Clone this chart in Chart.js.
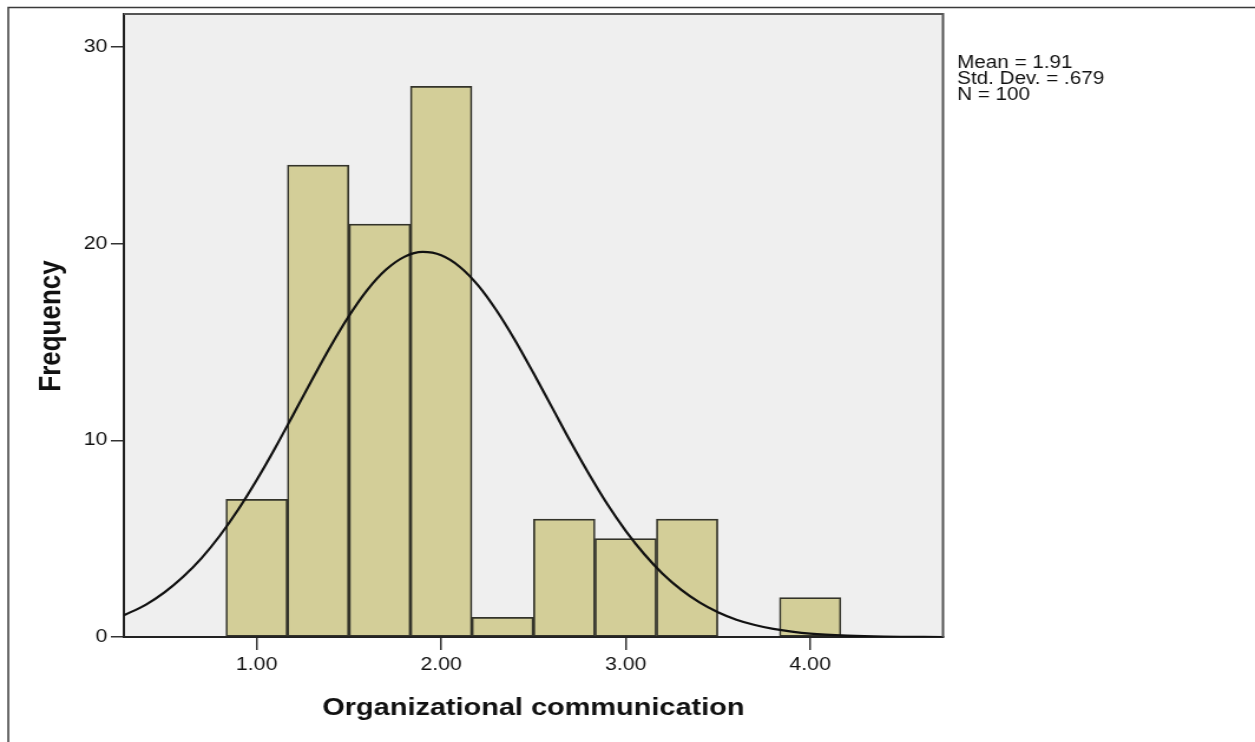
<!DOCTYPE html>
<html>
<head>
<meta charset="utf-8">
<title>Organizational communication</title>
<script src="https://cdn.jsdelivr.net/npm/chart.js@4.4.1/dist/chart.umd.min.js"></script>
<style>
  html, body { margin: 0; padding: 0; background: #fff; overflow: hidden; }
  #wrap { width: 1064px; height: 742px; transform: scaleX(1.1795); transform-origin: 0 0; }
</style>
</head>
<body>
<div id="wrap"><canvas id="histogram" width="1064" height="742"></canvas></div>
<script>
// histogram bins (centre of each 1/3-wide bin) and counts
const binCenters = [1.000, 1.333, 1.667, 2.000, 2.333, 2.667, 3.000, 3.333, 3.667, 4.000];
const frequencies = [7, 24, 21, 28, 1, 6, 5, 6, 0, 2];

// fitted normal curve, read at regular steps
const curveX = [0.28, 0.4, 0.5, 0.6, 0.7, 0.8, 0.9, 1.0, 1.1, 1.2, 1.3, 1.4, 1.5, 1.6, 1.7, 1.8, 1.9,
  2.0, 2.1, 2.2, 2.3, 2.4, 2.5, 2.6, 2.7, 2.8, 2.9, 3.0, 3.1, 3.2, 3.3, 3.4, 3.5, 3.6, 3.7, 3.8, 3.9,
  4.0, 4.2, 4.4, 4.72];
const curveY = [1.10, 1.65, 2.27, 3.05, 4.00, 5.15, 6.48, 7.98, 9.61, 11.34, 13.08, 14.77, 16.32, 17.65, 18.67, 19.33, 19.58,
  19.41, 18.83, 17.88, 16.60, 15.09, 13.42, 11.69, 9.95, 8.30, 6.76, 5.40, 4.22, 3.22, 2.41, 1.76, 1.26, 0.88, 0.61, 0.41, 0.27,
  0.17, 0.07, 0.02, 0.00];

const xTickValues = [1, 2, 3, 4];
const yTickValues = [0, 10, 20, 30];
const statsLines = ["Mean = 1.91", "Std. Dev. = .679", "N = 100"];
const xTitle = "Organizational communication";
const yTitle = "Frequency";

const FONT = "'Liberation Sans', Arial, sans-serif";

const decor = {
  id: "decor",
  beforeDraw(chart) {
    const { ctx, chartArea: a } = chart;
    ctx.save();
    ctx.fillStyle = "#fff";
    ctx.fillRect(0, 0, chart.width, chart.height);
    ctx.fillStyle = "#efefef";
    ctx.fillRect(a.left, a.top, a.right - a.left, a.bottom - a.top);
    // outer frame, top and left only
    ctx.strokeStyle = "#3a3a3a";
    ctx.lineWidth = 1.5;
    ctx.beginPath();
    ctx.moveTo(7, chart.height);
    ctx.lineTo(7, 7.5);
    ctx.lineTo(chart.width, 7.5);
    ctx.stroke();
    ctx.restore();
  },
  afterDatasetsDraw(chart) {
    const { ctx, chartArea: a } = chart;
    ctx.save();
    ctx.strokeStyle = "#555";
    ctx.lineWidth = 2;
    ctx.beginPath();
    ctx.moveTo(a.left, a.top);
    ctx.lineTo(a.right, a.top);
    ctx.lineTo(a.right, a.bottom);
    ctx.stroke();
    ctx.restore();
  },
  afterDraw(chart) {
    const { ctx, chartArea: a } = chart;
    ctx.save();
    ctx.fillStyle = "#111";
    ctx.font = "17.5px " + FONT;
    ctx.textAlign = "left";
    ctx.textBaseline = "middle";
    statsLines.forEach((t, i) => ctx.fillText(t, a.right + 12, 63 + i * 16));

    ctx.font = "bold 24.5px " + FONT;
    ctx.textAlign = "center";
    ctx.fillText(xTitle, (a.left + a.right) / 2, 708);

    ctx.translate(44, 326);
    ctx.rotate(-Math.PI / 2);
    ctx.font = "bold 26px " + FONT;
    ctx.fillText(yTitle, 0, 0);
    ctx.restore();
  }
};

new Chart(document.getElementById("histogram"), {
  type: "bar",
  data: {
    datasets: [
      {
        type: "line",
        data: curveX.map((x, i) => ({ x, y: curveY[i] })),
        borderColor: "#111",
        borderWidth: 2.2,
        pointRadius: 0,
        tension: 0.4,
        cubicInterpolationMode: "monotone",
        fill: false,
        order: 0
      },
      {
        data: binCenters.map((x, i) => ({ x, y: frequencies[i] })),
        backgroundColor: "#d3ce98",
        borderColor: "#33332a",
        borderWidth: 1.7,
        borderSkipped: false,
        barPercentage: 1,
        categoryPercentage: 1,
        order: 1
      }
    ]
  },
  options: {
    responsive: false,
    animation: false,
    layout: { padding: { top: 14, right: 264.5, left: 0, bottom: 0 } },
    plugins: { legend: { display: false }, tooltip: { enabled: false } },
    scales: {
      x: {
        type: "linear",
        offset: false,
        min: 0.28,
        max: 4.72,
        afterBuildTicks: s => { s.ticks = xTickValues.map(v => ({ value: v })); },
        afterFit: s => { s.height = 105; },
        ticks: {
          callback: v => Number(v).toFixed(2),
          font: { family: FONT, size: 18 },
          color: "#111",
          padding: 4,
          maxRotation: 0,
          autoSkip: false
        },
        grid: { offset: false, drawOnChartArea: false, tickLength: 13, color: "#333", lineWidth: 1.5 },
        border: { color: "#222", width: 2 }
      },
      y: {
        min: 0,
        max: 31.68,
        afterBuildTicks: s => { s.ticks = yTickValues.map(v => ({ value: v })); },
        afterFit: s => { s.width = 105; },
        ticks: {
          font: { family: FONT, size: 18 },
          color: "#111",
          padding: 3
        },
        grid: { drawOnChartArea: false, tickLength: 11, color: "#333", lineWidth: 1.5 },
        border: { color: "#222", width: 2 }
      }
    }
  },
  plugins: [decor]
});
</script>
</body>
</html>
